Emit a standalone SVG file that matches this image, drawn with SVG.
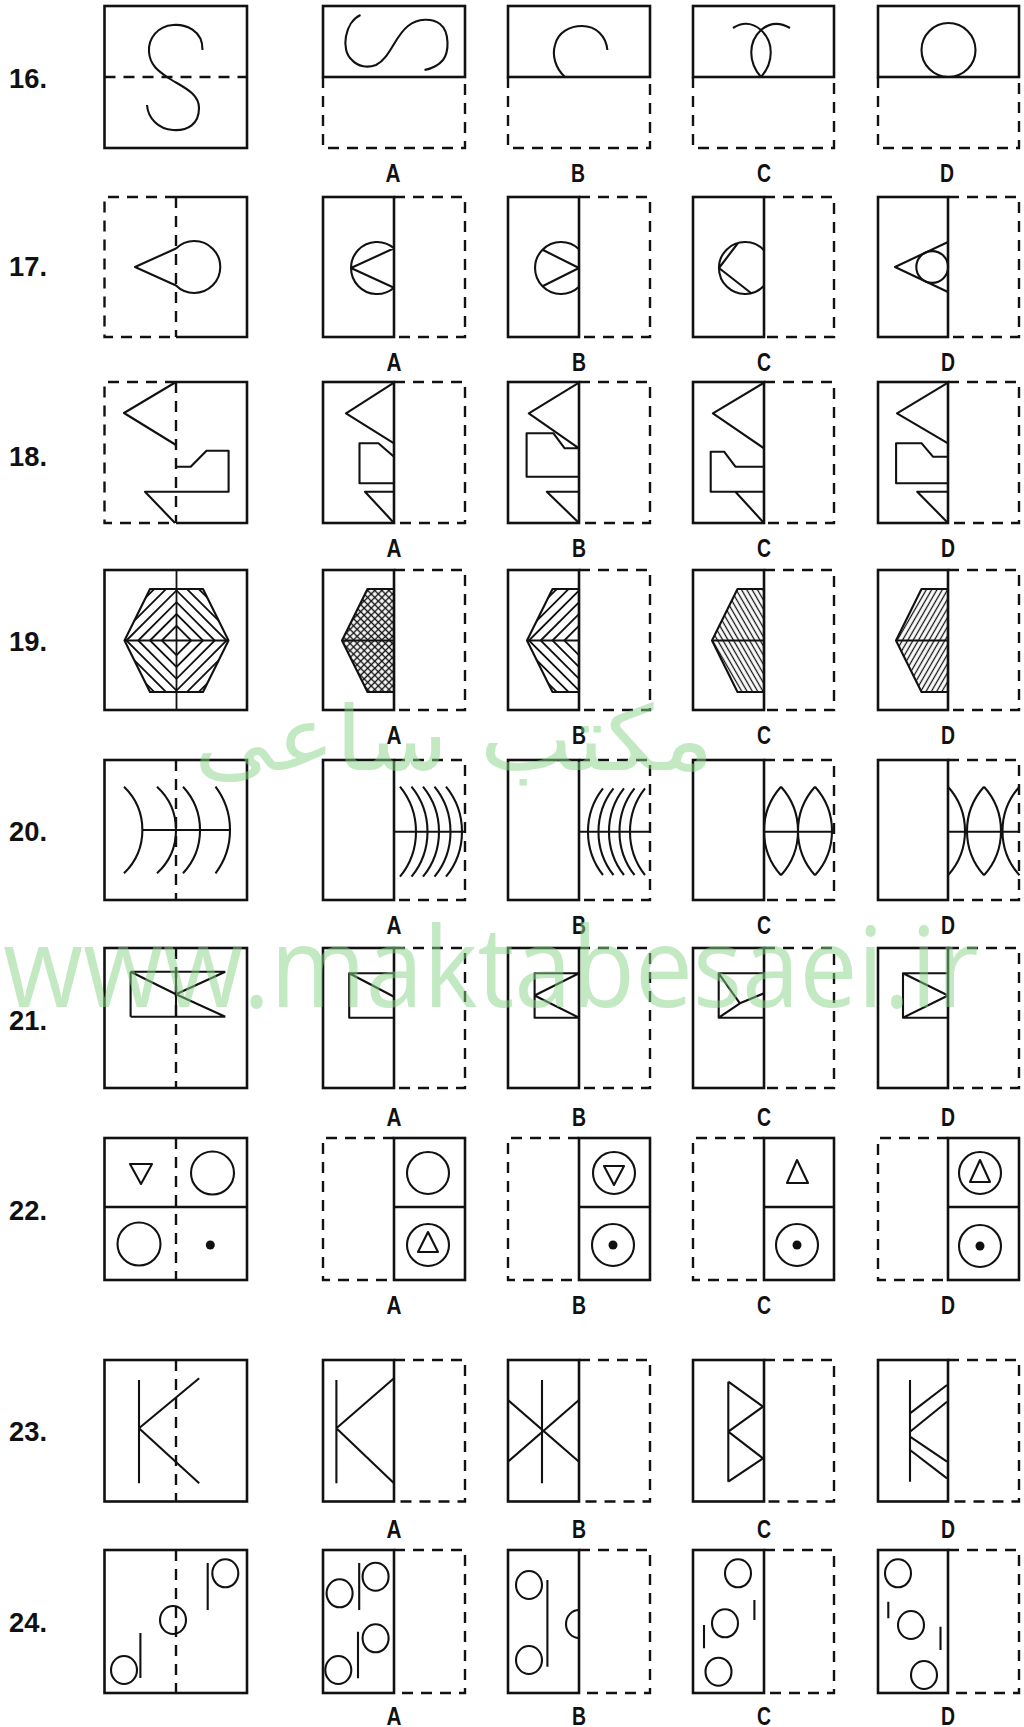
<svg xmlns="http://www.w3.org/2000/svg" width="1024" height="1727" viewBox="0 0 1024 1727">
<defs>
<style>
.b{fill:none;stroke:#111;stroke-width:2.6}
.d{fill:none;stroke:#111;stroke-width:2.4;stroke-dasharray:11 8}
.f{fill:none;stroke:#111;stroke-width:2.1;stroke-linejoin:round}
.s{fill:none;stroke:#111;stroke-width:1.8}
.dot{fill:#111}
.lbl{font-family:"Liberation Sans",Arial,sans-serif;font-size:25px;font-weight:bold;fill:#111;text-anchor:middle}
.num{font-family:"Liberation Sans",Arial,sans-serif;font-size:28px;font-weight:bold;fill:#111}
.wm{fill:#88d488;opacity:.5}
</style>
<pattern id="pA1" width="5" height="5" patternUnits="userSpaceOnUse" patternTransform="rotate(45)"><line x1="2.5" y1="0" x2="2.5" y2="5" stroke="#111" stroke-width="1.4"/></pattern>
<pattern id="pA2" width="5" height="5" patternUnits="userSpaceOnUse" patternTransform="rotate(-45)"><line x1="2.5" y1="0" x2="2.5" y2="5" stroke="#111" stroke-width="1.4"/></pattern>
<pattern id="pC" width="4.6" height="4.6" patternUnits="userSpaceOnUse" patternTransform="rotate(-30)"><line x1="2.3" y1="0" x2="2.3" y2="4.6" stroke="#111" stroke-width="1.3"/></pattern>
<pattern id="pD" width="4.6" height="4.6" patternUnits="userSpaceOnUse" patternTransform="rotate(30)"><line x1="2.3" y1="0" x2="2.3" y2="4.6" stroke="#111" stroke-width="1.3"/></pattern>
<clipPath id="hexM"><polygon points="150,589 203,589 228.5,640.5 203,692 150,692 124.5,640.5"/></clipPath>
<clipPath id="hexB"><polygon points="552.5,589 579,589 579,692 552.5,692 527,640.5"/></clipPath>
</defs>
<rect x="0" y="0" width="1024" height="1727" fill="#fff"/>

<!-- Row 16 -->
<g id="q16">
<text class="num" x="9" y="88" textLength="38" lengthAdjust="spacingAndGlyphs">16.</text>
<g id="q16-main">
<rect class="b" x="104.5" y="6" width="142.5" height="142"/>
<line class="d" x1="104.5" y1="77" x2="247" y2="77"/>
<path class="f" d="M202.5,50 C203,30 185,24 173,25 C158,26 148,38 149,52 C150,66 160,72 167,77 C180,86 199,92 199,108 C199,124 188,131 173,130 C158,129 148,118 147,105"/>
</g>
<g id="q16-A">
<rect class="b" x="323" y="6" width="142" height="71"/>
<path class="d" d="M323,77 V148 H465 V77"/>
<path class="f" d="M360.5,15 C345,22 340,50 352,60 C358,67 368,68 376,65 C390,58 395,36 408,26 C418,18 432,18 440,24 C450,32 449,52 443,60 C438,66 430,69 424.5,70"/>
<text class="lbl" x="393" y="182" textLength="15" lengthAdjust="spacingAndGlyphs">A</text>
</g>
<g id="q16-B">
<rect class="b" x="508" y="6" width="142" height="71"/>
<path class="d" d="M508,77 V148 H650 V77"/>
<path class="f" d="M565,77 C555,68 552,55 555,45 C558,32 570,26 582,26 C596,26 606,36 607.4,50"/>
<text class="lbl" x="578" y="182" textLength="14" lengthAdjust="spacingAndGlyphs">B</text>
</g>
<g id="q16-C">
<rect class="b" x="693" y="6" width="141" height="71"/>
<path class="d" d="M693,77 V148 H834 V77"/>
<path class="f" d="M761,77 C748,62 748,42 761,30 C768,24 778,21 790,28 M761,77 C774,62 774,42 761,30 C754,24 744,21 733,28"/>
<text class="lbl" x="764" y="182" textLength="14" lengthAdjust="spacingAndGlyphs">C</text>
</g>
<g id="q16-D">
<rect class="b" x="878" y="6" width="141" height="71"/>
<path class="d" d="M878,77 V148 H1019 V77"/>
<circle class="f" cx="948.5" cy="50" r="27"/>
<text class="lbl" x="947" y="182" textLength="14" lengthAdjust="spacingAndGlyphs">D</text>
</g>
</g>

<!-- Row 17 -->
<g id="q17">
<text class="num" x="9" y="276" textLength="38" lengthAdjust="spacingAndGlyphs">17.</text>
<g id="q17-main">
<path class="d" d="M176,197 H104.5 V337 H176"/>
<path class="b" d="M176,197 H247 V337 H176"/>
<line class="d" x1="176" y1="197" x2="176" y2="337"/>
<path class="f" d="M176,248.5 L135,267 L176,285.5 A26 26 0 1 0 176,248.5"/>
</g>
<g id="q17-A">
<rect class="b" x="323" y="197" width="71" height="140"/>
<path class="d" d="M394,197 H465 V337 H394"/>
<path class="f" d="M394,248.3 A26 26 0 1 0 394,287.7 M394,248.3 L351,268 L394,287.7"/>
<text class="lbl" x="394" y="371" textLength="15" lengthAdjust="spacingAndGlyphs">A</text>
</g>
<g id="q17-B">
<rect class="b" x="508" y="197" width="71" height="140"/>
<path class="d" d="M579,197 H650 V337 H579"/>
<path class="f" d="M579,249.2 A26 26 0 1 0 579,286.8 M543,250 L579,268 L543,286"/>
<text class="lbl" x="579" y="371" textLength="14" lengthAdjust="spacingAndGlyphs">B</text>
</g>
<g id="q17-C">
<rect class="b" x="693" y="197" width="71" height="140"/>
<path class="d" d="M764,197 H834 V337 H764"/>
<path class="f" d="M764,250.3 A26 26 0 1 0 764,285.7 M738,243 L719,268 L751,293"/>
<text class="lbl" x="764" y="371" textLength="14" lengthAdjust="spacingAndGlyphs">C</text>
</g>
<g id="q17-D">
<rect class="b" x="878" y="197" width="70" height="140"/>
<path class="d" d="M948,197 H1019 V337 H948"/>
<path class="f" d="M948,242 L895,267 L948,292"/>
<circle class="f" cx="932.2" cy="267" r="15.9"/>
<text class="lbl" x="948" y="371" textLength="14" lengthAdjust="spacingAndGlyphs">D</text>
</g>
</g>

<!-- Row 18 -->
<g id="q18">
<text class="num" x="9" y="466" textLength="38" lengthAdjust="spacingAndGlyphs">18.</text>
<g id="q18-main">
<path class="d" d="M176,382 H104.5 V523 H176"/>
<path class="b" d="M176,382 H247 V523 H176"/>
<line class="d" x1="176" y1="382" x2="176" y2="523"/>
<path class="f" d="M176,382 L124,413 L176,445 M176,466.7 H190.7 L206.5,450.7 H228.6 V491.7 H145 L175,523"/>
</g>
<g id="q18-A">
<rect class="b" x="323" y="382" width="71" height="141"/>
<path class="d" d="M394,382 H465 V523 H394"/>
<path class="f" d="M394,382.7 L346,413.3 L394,443.3 M394,456.7 L378.4,443.3 H359.5 V483.3 H394 M394,491.7 H365 L394,523"/>
<text class="lbl" x="394" y="557" textLength="15" lengthAdjust="spacingAndGlyphs">A</text>
</g>
<g id="q18-B">
<rect class="b" x="508" y="382" width="71" height="141"/>
<path class="d" d="M579,382 H650 V523 H579"/>
<path class="f" d="M579,382.7 L528.8,413.3 L579,448.3 M579,448.3 H564.7 L553.5,433.3 H526.6 V476.7 H579 M579,491.7 H546.8 L579,523"/>
<text class="lbl" x="579" y="557" textLength="14" lengthAdjust="spacingAndGlyphs">B</text>
</g>
<g id="q18-C">
<rect class="b" x="693" y="382" width="71" height="141"/>
<path class="d" d="M764,382 H834 V523 H764"/>
<path class="f" d="M764,382.7 L712.9,413.3 L764,448.3 M764,466.7 H735.4 L724.1,451.7 H710.7 V491.7 H764 M735.4,491.7 L764,523"/>
<text class="lbl" x="764" y="557" textLength="14" lengthAdjust="spacingAndGlyphs">C</text>
</g>
<g id="q18-D">
<rect class="b" x="878" y="382" width="70" height="141"/>
<path class="d" d="M948,382 H1019 V523 H948"/>
<path class="f" d="M948,382.7 L897,413.3 L948,443.3 M948,456.7 H932.9 L921.7,443.3 H896.1 V483.3 H948 M948,491.7 H917.2 L948,523"/>
<text class="lbl" x="948" y="557" textLength="14" lengthAdjust="spacingAndGlyphs">D</text>
</g>
</g>

<!-- Row 19 -->
<g id="q19">
<text class="num" x="9" y="651" textLength="38" lengthAdjust="spacingAndGlyphs">19.</text>
<g id="q19-main">
<rect class="b" x="104.5" y="570" width="142.5" height="140"/>
<line class="s" x1="176.5" y1="570" x2="176.5" y2="710"/>
<g clip-path="url(#hexM)">
<path class="s" d="M161.8,640.5 L176.5,625.8 L191.2,640.5 L176.5,655.2 Z M150,640.5 L176.5,614 L203,640.5 L176.5,667 Z M138.2,640.5 L176.5,602.2 L214.8,640.5 L176.5,678.8 Z M126.4,640.5 L176.5,590.4 L226.6,640.5 L176.5,690.6 Z M114.6,640.5 L176.5,578.6 L238.4,640.5 L176.5,702.4 Z M102.8,640.5 L176.5,566.8 L250.2,640.5 L176.5,714.2 Z"/>
</g>
<polygon class="f" points="150,589 203,589 228.5,640.5 203,692 150,692 124.5,640.5"/>
<line class="f" x1="124.5" y1="640.5" x2="228.5" y2="640.5"/>
</g>
<g id="q19-A">
<rect class="b" x="323" y="570" width="71" height="140"/>
<path class="d" d="M394,570 H465 V710 H394"/>
<polygon points="367.5,589 394,589 394,692 367.5,692 342,640.5" fill="url(#pA1)"/>
<polygon points="367.5,589 394,589 394,692 367.5,692 342,640.5" fill="url(#pA2)"/>
<polygon class="f" points="367.5,589 394,589 394,692 367.5,692 342,640.5"/>
<line class="f" x1="342" y1="640.5" x2="394" y2="640.5"/>
<text class="lbl" x="394" y="744" textLength="15" lengthAdjust="spacingAndGlyphs">A</text>
</g>
<g id="q19-B">
<rect class="b" x="508" y="570" width="71" height="140"/>
<path class="d" d="M579,570 H650 V710 H579"/>
<g clip-path="url(#hexB)">
<path class="s" d="M564.3,640.5 L579,625.8 L593.7,640.5 L579,655.2 Z M552.5,640.5 L579,614 L605.5,640.5 L579,667 Z M540.7,640.5 L579,602.2 L617.3,640.5 L579,678.8 Z M528.9,640.5 L579,590.4 L629.1,640.5 L579,690.6 Z M517.1,640.5 L579,578.6 L640.9,640.5 L579,702.4 Z M505.3,640.5 L579,566.8 L652.7,640.5 L579,714.2 Z"/>
</g>
<polygon class="f" points="552.5,589 579,589 579,692 552.5,692 527,640.5"/>
<line class="f" x1="527" y1="640.5" x2="579" y2="640.5"/>
<text class="lbl" x="579" y="744" textLength="14" lengthAdjust="spacingAndGlyphs">B</text>
</g>
<g id="q19-C">
<rect class="b" x="693" y="570" width="71" height="140"/>
<path class="d" d="M764,570 H834 V710 H764"/>
<polygon points="737.5,589 764,589 764,692 737.5,692 712,640.5" fill="url(#pC)"/>
<polygon class="f" points="737.5,589 764,589 764,692 737.5,692 712,640.5"/>
<line class="f" x1="712" y1="640.5" x2="764" y2="640.5"/>
<text class="lbl" x="764" y="744" textLength="14" lengthAdjust="spacingAndGlyphs">C</text>
</g>
<g id="q19-D">
<rect class="b" x="878" y="570" width="70" height="140"/>
<path class="d" d="M948,570 H1019 V710 H948"/>
<polygon points="921.5,589 948,589 948,692 921.5,692 896,640.5" fill="url(#pD)"/>
<polygon class="f" points="921.5,589 948,589 948,692 921.5,692 896,640.5"/>
<line class="f" x1="896" y1="640.5" x2="948" y2="640.5"/>
<text class="lbl" x="948" y="744" textLength="14" lengthAdjust="spacingAndGlyphs">D</text>
</g>
</g>

<!-- Row 20 -->
<g id="q20">
<text class="num" x="9" y="841" textLength="38" lengthAdjust="spacingAndGlyphs">20.</text>
<g id="q20-main">
<rect class="b" x="104.5" y="760" width="142.5" height="140"/>
<line class="d" x1="176" y1="760" x2="176" y2="900"/>
<line class="f" x1="142.4" y1="830" x2="230" y2="830"/>
<path class="f" d="M124,786.7 A60.2 60.2 0 0 1 124,873.3 M157,786.7 A58.8 58.8 0 0 1 157,873.3 M183,786.7 A63.6 63.6 0 0 1 183,873.3 M215.5,786.7 A71.9 71.9 0 0 1 215.5,873.3"/>
</g>
<g id="q20-A">
<rect class="b" x="323" y="760" width="71" height="140"/>
<path class="d" d="M394,760 H465 V900 H394"/>
<line class="f" x1="394" y1="831.7" x2="465" y2="831.7"/>
<path class="f" d="M400,786.7 A71.3 71.3 0 0 1 400,876.7 M411.5,786.7 A71.3 71.3 0 0 1 411.5,876.7 M423,786.7 A71.3 71.3 0 0 1 423,876.7 M434.5,786.7 A71.3 71.3 0 0 1 434.5,876.7 M446,786.7 A71.3 71.3 0 0 1 446,876.7"/>
<text class="lbl" x="394" y="934" textLength="15" lengthAdjust="spacingAndGlyphs">A</text>
</g>
<g id="q20-B">
<rect class="b" x="508" y="760" width="71" height="140"/>
<path class="d" d="M579,760 H650 V900 H579"/>
<line class="f" x1="579" y1="831.7" x2="650" y2="831.7"/>
<path class="f" d="M603,788.3 A70.1 70.1 0 0 0 603,875 M613.5,788.3 A70.1 70.1 0 0 0 613.5,875 M624,788.3 A70.1 70.1 0 0 0 624,875 M634.5,788.3 A70.1 70.1 0 0 0 634.5,875 M645,788.3 A70.1 70.1 0 0 0 645,875"/>
<text class="lbl" x="579" y="934" textLength="14" lengthAdjust="spacingAndGlyphs">B</text>
</g>
<g id="q20-C">
<rect class="b" x="693" y="760" width="71" height="140"/>
<path class="d" d="M764,760 H834 V900 H764"/>
<line class="f" x1="764" y1="831.7" x2="834" y2="831.7"/>
<path class="f" d="M781,786.7 A66.2 66.2 0 0 0 781,875.3 M781,786.7 A66.2 66.2 0 0 1 781,875.3 M815,786.7 A66.2 66.2 0 0 0 815,875.3 M815,786.7 A66.2 66.2 0 0 1 815,875.3"/>
<text class="lbl" x="764" y="934" textLength="14" lengthAdjust="spacingAndGlyphs">C</text>
</g>
<g id="q20-D">
<rect class="b" x="878" y="760" width="70" height="140"/>
<path class="d" d="M948,760 H1019 V900 H948"/>
<line class="f" x1="948" y1="831.7" x2="1019" y2="831.7"/>
<path class="f" d="M948,786.7 A66.2 66.2 0 0 1 948,875.3 M984,786.7 A66.2 66.2 0 0 0 984,875.3 M984,786.7 A66.2 66.2 0 0 1 984,875.3 M1019.5,786.7 A66.2 66.2 0 0 0 1019.5,875.3"/>
<text class="lbl" x="948" y="934" textLength="14" lengthAdjust="spacingAndGlyphs">D</text>
</g>
</g>

<!-- Row 21 -->
<g id="q21">
<text class="num" x="9" y="1030" textLength="38" lengthAdjust="spacingAndGlyphs">21.</text>
<g id="q21-main">
<rect class="b" x="104.5" y="948" width="142.5" height="140"/>
<line class="d" x1="176" y1="948" x2="176" y2="1088"/>
<path class="f" d="M130.6,971.7 H225.3 M130.6,1016.7 H225.3 M130.6,971.7 V1016.7 M176,971.7 V1016.7 M130.6,971.7 L176,994.2 L225.3,971.7 M176,994.2 L225.3,1016.7"/>
</g>
<g id="q21-A">
<rect class="b" x="323" y="948" width="71" height="140"/>
<path class="d" d="M394,948 H465 V1088 H394"/>
<path class="f" d="M394,973.3 H349.2 V1017.7 H394 M349.2,973.3 L394,996.7"/>
<text class="lbl" x="394" y="1126" textLength="15" lengthAdjust="spacingAndGlyphs">A</text>
</g>
<g id="q21-B">
<rect class="b" x="508" y="948" width="71" height="140"/>
<path class="d" d="M579,948 H650 V1088 H579"/>
<path class="f" d="M579,973.3 H534.6 V1017.7 H579 M579,973.3 L534.6,995.5 L579,1017.7"/>
<text class="lbl" x="579" y="1126" textLength="14" lengthAdjust="spacingAndGlyphs">B</text>
</g>
<g id="q21-C">
<rect class="b" x="693" y="948" width="71" height="140"/>
<path class="d" d="M764,948 H834 V1088 H764"/>
<path class="f" d="M764,973.3 H718.7 V1017.7 H764 M718.7,973.3 L739.9,1003.3 L764,993.3 M739.9,1003.3 L718.7,1017.7"/>
<text class="lbl" x="764" y="1126" textLength="14" lengthAdjust="spacingAndGlyphs">C</text>
</g>
<g id="q21-D">
<rect class="b" x="878" y="948" width="70" height="140"/>
<path class="d" d="M948,948 H1019 V1088 H948"/>
<path class="f" d="M948,973.3 H903 V1017.7 H948 M903,973.3 L948,995.5 L903,1017.7"/>
<text class="lbl" x="948" y="1126" textLength="14" lengthAdjust="spacingAndGlyphs">D</text>
</g>
</g>

<!-- Row 22 -->
<g id="q22">
<text class="num" x="9" y="1220" textLength="38" lengthAdjust="spacingAndGlyphs">22.</text>
<g id="q22-main">
<rect class="b" x="104.5" y="1138" width="142.5" height="142"/>
<line class="b" x1="104.5" y1="1207" x2="247" y2="1207"/>
<line class="d" x1="176" y1="1138" x2="176" y2="1280"/>
<polygon class="f" points="130,1164 152,1164 141,1184"/>
<circle class="f" cx="212.5" cy="1173" r="21.5"/>
<circle class="f" cx="139" cy="1244" r="21.5"/>
<circle class="dot" cx="210.3" cy="1245" r="4.5"/>
</g>
<g id="q22-A">
<path class="d" d="M394,1138 H323 V1280 H394"/>
<rect class="b" x="394" y="1138" width="71" height="142"/>
<line class="b" x1="394" y1="1207" x2="465" y2="1207"/>
<circle class="f" cx="428" cy="1173" r="21"/>
<circle class="f" cx="428" cy="1245" r="21"/>
<polygon class="f" points="428,1232 418,1252 438,1252"/>
<text class="lbl" x="394" y="1314" textLength="15" lengthAdjust="spacingAndGlyphs">A</text>
</g>
<g id="q22-B">
<path class="d" d="M579,1138 H508 V1280 H579"/>
<rect class="b" x="579" y="1138" width="71" height="142"/>
<line class="b" x1="579" y1="1207" x2="650" y2="1207"/>
<circle class="f" cx="614" cy="1173" r="21"/>
<polygon class="f" points="604,1166 624,1166 614,1185"/>
<circle class="f" cx="613" cy="1245" r="21"/>
<circle class="dot" cx="613" cy="1245" r="4.5"/>
<text class="lbl" x="579" y="1314" textLength="14" lengthAdjust="spacingAndGlyphs">B</text>
</g>
<g id="q22-C">
<path class="d" d="M764,1138 H693 V1280 H764"/>
<rect class="b" x="764" y="1138" width="70" height="142"/>
<line class="b" x1="764" y1="1207" x2="834" y2="1207"/>
<polygon class="f" points="797,1160 787,1183 808,1183"/>
<circle class="f" cx="797" cy="1245" r="21"/>
<circle class="dot" cx="797" cy="1245" r="4.5"/>
<text class="lbl" x="764" y="1314" textLength="14" lengthAdjust="spacingAndGlyphs">C</text>
</g>
<g id="q22-D">
<path class="d" d="M948,1138 H878 V1280 H948"/>
<rect class="b" x="948" y="1138" width="71" height="142"/>
<line class="b" x1="948" y1="1207" x2="1019" y2="1207"/>
<circle class="f" cx="980" cy="1173" r="21"/>
<polygon class="f" points="980,1160 970,1182 990,1182"/>
<circle class="f" cx="980" cy="1246" r="21"/>
<circle class="dot" cx="980" cy="1246" r="4.5"/>
<text class="lbl" x="948" y="1314" textLength="14" lengthAdjust="spacingAndGlyphs">D</text>
</g>
</g>

<!-- Row 23 -->
<g id="q23">
<text class="num" x="9" y="1441" textLength="38" lengthAdjust="spacingAndGlyphs">23.</text>
<g id="q23-main">
<rect class="b" x="104.5" y="1360" width="142.5" height="141.5"/>
<line class="d" x1="176" y1="1360" x2="176" y2="1501.5"/>
<path class="f" d="M139,1380 V1483.3 M199.2,1378.3 L139,1428.3 L199.2,1483.3"/>
</g>
<g id="q23-A">
<rect class="b" x="323" y="1360" width="71" height="141.5"/>
<path class="d" d="M394,1360 H465 V1501.5 H394"/>
<path class="f" d="M336.4,1380 V1483.3 M394,1378.3 L336.4,1428.3 L394,1483.3"/>
<text class="lbl" x="394" y="1538" textLength="15" lengthAdjust="spacingAndGlyphs">A</text>
</g>
<g id="q23-B">
<rect class="b" x="508" y="1360" width="71" height="141.5"/>
<path class="d" d="M579,1360 H650 V1501.5 H579"/>
<path class="f" d="M542,1380 V1483.3 M508,1400 L579,1461.7 M579,1400 L508,1461.7"/>
<text class="lbl" x="579" y="1538" textLength="14" lengthAdjust="spacingAndGlyphs">B</text>
</g>
<g id="q23-C">
<rect class="b" x="693" y="1360" width="71" height="141.5"/>
<path class="d" d="M764,1360 H834 V1501.5 H764"/>
<path class="f" d="M728.3,1381.7 V1481.7 M728.3,1381.7 L763,1406.7 L728.3,1431.7 L763,1458.3 L728.3,1481.7"/>
<text class="lbl" x="764" y="1538" textLength="14" lengthAdjust="spacingAndGlyphs">C</text>
</g>
<g id="q23-D">
<rect class="b" x="878" y="1360" width="70" height="141.5"/>
<path class="d" d="M948,1360 H1019 V1501.5 H948"/>
<path class="f" d="M910,1380 V1481.7 M910,1413.3 L947,1385 M910,1431.7 L947,1401.7 M910,1436.7 L947,1461.7 M910,1450 L947,1478.3"/>
<text class="lbl" x="948" y="1538" textLength="14" lengthAdjust="spacingAndGlyphs">D</text>
</g>
</g>

<!-- Row 24 -->
<g id="q24">
<text class="num" x="9" y="1632" textLength="38" lengthAdjust="spacingAndGlyphs">24.</text>
<g id="q24-main">
<rect class="b" x="104.5" y="1550" width="142.5" height="143"/>
<line class="d" x1="176" y1="1550" x2="176" y2="1693"/>
<ellipse class="f" cx="124" cy="1670" rx="13" ry="14"/>
<ellipse class="f" cx="173" cy="1620" rx="13" ry="14"/>
<ellipse class="f" cx="225.3" cy="1573.3" rx="13" ry="14"/>
<path class="f" d="M140.4,1633 V1678 M207.7,1563 V1610"/>
</g>
<g id="q24-A">
<rect class="b" x="323" y="1550" width="71" height="143"/>
<path class="d" d="M394,1550 H465 V1693 H394"/>
<ellipse class="f" cx="339.6" cy="1593.3" rx="13" ry="14"/>
<ellipse class="f" cx="375.6" cy="1576.7" rx="13" ry="14"/>
<ellipse class="f" cx="375.6" cy="1638.3" rx="13" ry="14"/>
<ellipse class="f" cx="338.3" cy="1670" rx="13" ry="14"/>
<path class="f" d="M359.2,1563 V1610 M358,1631.7 V1678.3"/>
<text class="lbl" x="394" y="1725" textLength="15" lengthAdjust="spacingAndGlyphs">A</text>
</g>
<g id="q24-B">
<rect class="b" x="508" y="1550" width="71" height="143"/>
<path class="d" d="M579,1550 H650 V1693 H579"/>
<ellipse class="f" cx="529" cy="1585" rx="13" ry="14"/>
<ellipse class="f" cx="529" cy="1660" rx="13" ry="14"/>
<path class="f" d="M547.4,1580 V1666.7 M579,1610 A13 14 0 0 0 579,1638"/>
<text class="lbl" x="579" y="1725" textLength="14" lengthAdjust="spacingAndGlyphs">B</text>
</g>
<g id="q24-C">
<rect class="b" x="693" y="1550" width="71" height="143"/>
<path class="d" d="M764,1550 H834 V1693 H764"/>
<ellipse class="f" cx="738" cy="1573.3" rx="13" ry="14"/>
<ellipse class="f" cx="725" cy="1623.3" rx="13" ry="14"/>
<ellipse class="f" cx="718.5" cy="1671.7" rx="13" ry="14"/>
<path class="f" d="M754.4,1600 V1620 M704,1625 V1648.3"/>
<text class="lbl" x="764" y="1725" textLength="14" lengthAdjust="spacingAndGlyphs">C</text>
</g>
<g id="q24-D">
<rect class="b" x="878" y="1550" width="70" height="143"/>
<path class="d" d="M948,1550 H1019 V1693 H948"/>
<ellipse class="f" cx="898" cy="1573.3" rx="13" ry="14"/>
<ellipse class="f" cx="911" cy="1625" rx="13" ry="14"/>
<ellipse class="f" cx="924" cy="1675" rx="13" ry="14"/>
<path class="f" d="M888.3,1601.7 V1618.3 M940.5,1626.7 V1650"/>
<text class="lbl" x="948" y="1725" textLength="14" lengthAdjust="spacingAndGlyphs">D</text>
</g>
</g>

<!-- Watermark -->
<g id="watermark">
<text class="wm" x="454" y="770" font-family="'DejaVu Sans',sans-serif" font-size="90" text-anchor="middle" textLength="520" lengthAdjust="spacingAndGlyphs">مکتب ساعی</text>
<text class="wm" x="3" y="1007" font-family="'Open Sans','Noto Sans',sans-serif" font-size="112" textLength="976" lengthAdjust="spacingAndGlyphs">www.maktabesaei.ir</text>
</g>
</svg>
